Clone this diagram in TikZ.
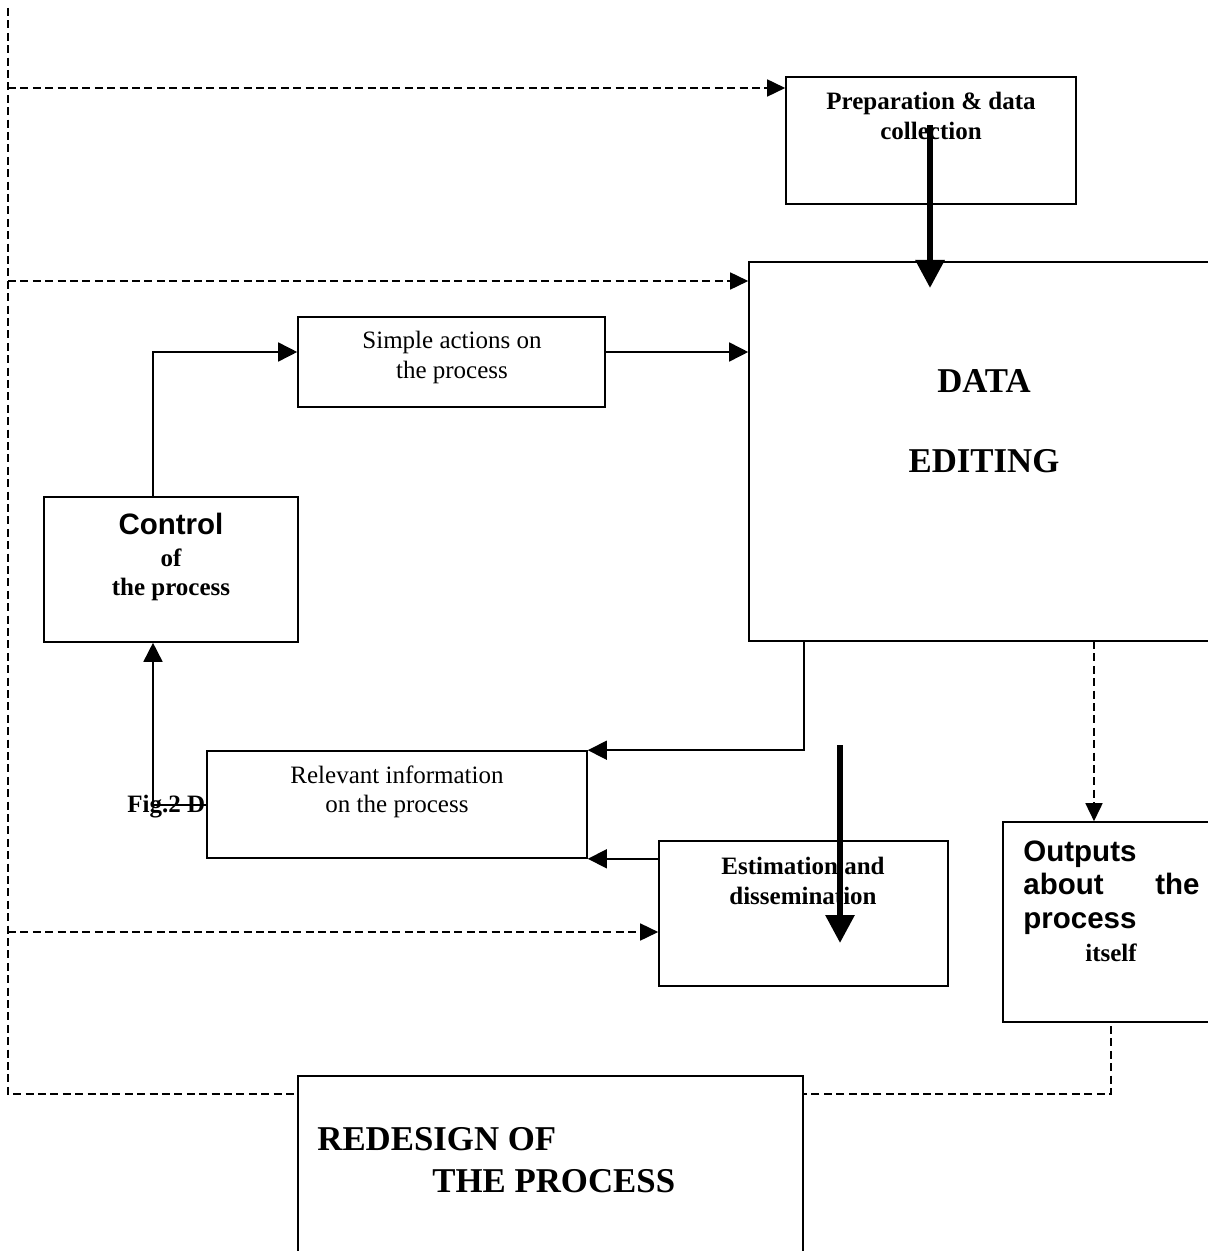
\documentclass[tikz,border=0pt]{standalone}
\usepackage{fontspec}
\setmainfont{Liberation Serif}
\newfontfamily\arialf{Liberation Sans}
\usetikzlibrary{arrows.meta,fit}
\begin{document}
\begin{tikzpicture}[x=0.5pt,y=-0.5pt,
  box/.style={draw, fill=white, line width=0.8pt, inner sep=0pt},
  flow/.style={line width=0.8pt, -{Triangle[length=9.5pt,width=9.5pt]}},
  fb/.style={line width=0.8pt, dash pattern=on 4pt off 2.2pt},
  fbarrow/.style={fb, -{Triangle[length=9pt,width=8.5pt]}},
  big/.style={line width=3pt, -{Triangle[length=14pt,width=14pt]}},
  tr/.style={font=\fontsize{12.5}{15}\selectfont, inner sep=0pt},
  tb/.style={font=\fontsize{12.5}{15}\selectfont\bfseries, inner sep=0pt},
  tbig/.style={font=\fontsize{17.4}{20}\selectfont\bfseries, inner sep=0pt},
  ta/.style={font=\arialf\fontsize{14.75}{17}\selectfont\bfseries, inner sep=0pt}
]
\useasboundingbox (0,0) rectangle (1208,1251);

% left feedback coordinates
\coordinate (ftop) at (8,8);
\coordinate (f1) at (8,88);
\coordinate (f2) at (8,281);
\coordinate (f3) at (8,932);
\coordinate (f4) at (8,1094);
\coordinate (ys) at (0,352);
\coordinate (yf) at (0,805);
\coordinate (c1) at (153,497);
\coordinate (d1) at (1094,641);
\coordinate (d2) at (804,641);
\coordinate (o1) at (1111,1026);
\coordinate (pa) at (930,125);
\coordinate (pb) at (930,288);
\coordinate (ea) at (840,745);
\coordinate (eb) at (840,943);

% caption fragment (partly hidden)
\node[tb, anchor=base west] (fig) at (127,812) {Fig.2 D};

% boxes
\node[box, fit={(786,77) (1076,204)}] (prep) {};
\node[box, fit={(749,262) (1215,641)}] (data) {};
\node[box, fit={(298,317) (605,407)}] (simple) {};
\node[box, fit={(44,497) (298,642)}] (ctrl) {};
\node[box, fit={(207,751) (587,858)}] (rel) {};
\node[box, fit={(659,841) (948,986)}] (est) {};
\node[box, fit={(1003,822) (1215,1022)}] (outs) {};
\node[box, fit={(298,1076) (803,1262)}] (redesign) {};

% texts
\node[tb, anchor=base] (prep1) at (931,110) {Preparation \& data};
\node[tb, anchor=base] (prep2) at (931,140) {collection};
\node[tr, anchor=base] (simple1) at (452,349) {Simple actions on};
\node[tr, anchor=base] (simple2) at (452,379) {the process};
\node[tbig, anchor=base] (data1) at (984,392) {DATA};
\node[tbig, anchor=base] (data2) at (984,472) {EDITING};
\node[ta, anchor=base] (ctrl1) at (171,534) {Control};
\node[tb, anchor=base] (ctrl2) at (171,566) {of};
\node[tb, anchor=base] (ctrl3) at (171,595) {the process};
\node[tr, anchor=base] (rel1) at (397,783) {Relevant information};
\node[tr, anchor=base] (rel2) at (397,812) {on the process};
\node[tb, anchor=base] (est1) at (803,874) {Estimation and};
\node[tb, anchor=base] (est2) at (803,904) {dissemination};
\node[ta, anchor=base west] (outs1) at (1023,861) {Outputs};
\node[ta, anchor=base west] (outs2) at (1023,894) {about};
\node[ta, anchor=base east] (outs3) at (1200,894) {the};
\node[ta, anchor=base west] (outs4) at (1023,928) {process};
\node[tb, anchor=base] (outs5) at (1111,961) {itself};
\node[tbig, anchor=base west] (red1) at (317,1150) {REDESIGN OF};
\node[tbig, anchor=base west] (red2) at (432,1192) {THE PROCESS};

% dashed feedback
\draw[fb] (ftop) -- (f4) -- (redesign.west |- f4);
\draw[fb] (o1) |- (redesign.east |- f4);
\draw[fbarrow] (f1) -- (prep.west |- f1);
\draw[fbarrow] (f2) -- (data.west |- f2);
\draw[fbarrow] (f3) -- (est.west |- f3);
\draw[fbarrow] (d1) -- (d1 |- outs.north);

% flows
\draw[flow] (c1) |- (simple.west |- ys);
\draw[flow] (simple.east |- ys) -- (data.west |- ys);
\draw[flow] (d2) |- (rel.north east);
\draw[flow] (est.west |- rel.south east) -- (rel.south east);
\draw[flow] (rel.west |- yf) -| (c1 |- ctrl.south);

% thick arrows
\draw[big] (pa) -- (pb);
\draw[big] (ea) -- (eb);
\end{tikzpicture}
\end{document}
